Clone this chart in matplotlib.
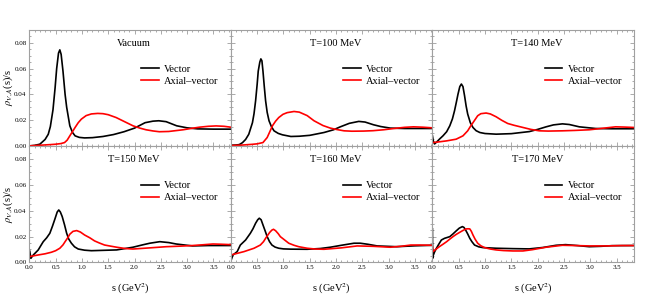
import matplotlib
matplotlib.use("Agg")
import matplotlib.pyplot as plt
from matplotlib.ticker import MultipleLocator, FormatStrFormatter

plt.rcParams['font.family'] = ['Liberation Serif', 'DejaVu Serif']
plt.rcParams['mathtext.fontset'] = 'stix'

titles = ["Vacuum", "T=100 MeV", "T=140 MeV", "T=150 MeV", "T=160 MeV", "T=170 MeV"]

# ---- Vacuum ----
v0_x = [0, 0.1, 0.2, 0.3, 0.36, 0.40, 0.45, 0.49, 0.52, 0.555, 0.58, 0.605, 0.64, 0.68, 0.71, 0.77, 0.82, 0.87, 0.95, 1.05, 1.2, 1.4, 1.6, 1.8, 2.0, 2.2, 2.35, 2.46, 2.6, 2.8, 3.0, 3.2, 3.5, 3.83]
v0_y = [0, 0.0004, 0.0013, 0.005, 0.009, 0.015, 0.028, 0.045, 0.060, 0.072, 0.0745, 0.071, 0.058, 0.040, 0.030, 0.0156, 0.0105, 0.0078, 0.0066, 0.0062, 0.0064, 0.0073, 0.0088, 0.011, 0.0138, 0.018, 0.0192, 0.0195, 0.0188, 0.0156, 0.014, 0.0132, 0.013, 0.013]
a0_x = [0, 0.2, 0.4, 0.5, 0.6, 0.67, 0.72, 0.77, 0.82, 0.87, 0.93, 0.99, 1.08, 1.18, 1.3, 1.4, 1.5, 1.65, 1.8, 1.97, 2.1, 2.22, 2.35, 2.47, 2.65, 2.92, 3.1, 3.23, 3.4, 3.55, 3.7, 3.83]
a0_y = [0, 0.0005, 0.001, 0.0013, 0.0018, 0.0026, 0.0045, 0.0078, 0.011, 0.0143, 0.018, 0.0208, 0.0235, 0.0248, 0.0252, 0.0250, 0.0242, 0.022, 0.019, 0.0156, 0.0138, 0.0125, 0.0116, 0.011, 0.0112, 0.0125, 0.0137, 0.0145, 0.0152, 0.0155, 0.0152, 0.0145]

# ---- T = 100 MeV ----
v100_x = [0, 0.1, 0.16, 0.22, 0.28, 0.34, 0.41, 0.44, 0.47, 0.50, 0.52, 0.55, 0.57, 0.59, 0.61, 0.635, 0.66, 0.69, 0.725, 0.77, 0.82, 0.9, 0.98, 1.14, 1.3, 1.5, 1.77, 1.95, 2.08, 2.25, 2.43, 2.55, 2.71, 2.85, 3.03, 3.3, 3.6, 3.83]
v100_y = [0.0005, 0.0007, 0.001, 0.0025, 0.005, 0.009, 0.018, 0.025, 0.035, 0.048, 0.058, 0.065, 0.0675, 0.066, 0.058, 0.046, 0.035, 0.026, 0.0195, 0.015, 0.0117, 0.0097, 0.0086, 0.0073, 0.0075, 0.0082, 0.0104, 0.0125, 0.0148, 0.0175, 0.019, 0.0185, 0.0164, 0.015, 0.0138, 0.0135, 0.0135, 0.0135]
a100_x = [0, 0.2, 0.4, 0.5, 0.61, 0.69, 0.74, 0.79, 0.85, 0.91, 0.99, 1.07, 1.2, 1.3, 1.45, 1.58, 1.75, 1.89, 2.0, 2.15, 2.3, 2.52, 2.7, 2.9, 3.1, 3.3, 3.47, 3.65, 3.83]
a100_y = [0.0003, 0.0006, 0.0012, 0.0016, 0.0026, 0.0065, 0.011, 0.0156, 0.0192, 0.022, 0.0245, 0.0258, 0.0267, 0.0262, 0.0235, 0.0195, 0.0158, 0.0138, 0.0128, 0.0117, 0.0114, 0.0115, 0.0118, 0.0125, 0.0135, 0.0144, 0.0148, 0.0145, 0.014]

# ---- T = 140 MeV ----
v140_x = [0, 0.015, 0.04, 0.08, 0.14, 0.2, 0.27, 0.33, 0.38, 0.42, 0.455, 0.485, 0.52, 0.55, 0.58, 0.61, 0.64, 0.67, 0.72, 0.77, 0.83, 0.9, 1.0, 1.21, 1.5, 1.84, 2.0, 2.16, 2.3, 2.47, 2.6, 2.79, 3.1, 3.4, 3.83]
v140_y = [0.0078, 0.004, 0.0015, 0.003, 0.0055, 0.0078, 0.011, 0.0156, 0.021, 0.0273, 0.034, 0.040, 0.046, 0.048, 0.046, 0.039, 0.031, 0.0247, 0.018, 0.0143, 0.0118, 0.0104, 0.0096, 0.0091, 0.0095, 0.0111, 0.0128, 0.0148, 0.0163, 0.0171, 0.0166, 0.0148, 0.0135, 0.0133, 0.0133]
a140_x = [0, 0.1, 0.27, 0.45, 0.58, 0.67, 0.72, 0.77, 0.82, 0.86, 0.92, 1.02, 1.1, 1.21, 1.32, 1.43, 1.55, 1.72, 1.87, 2.03, 2.2, 2.47, 2.7, 2.98, 3.2, 3.48, 3.65, 3.83]
a140_y = [0.0026, 0.003, 0.0039, 0.0052, 0.0078, 0.0117, 0.015, 0.018, 0.021, 0.0234, 0.025, 0.0255, 0.0248, 0.0226, 0.0198, 0.0174, 0.016, 0.0143, 0.0128, 0.0117, 0.0115, 0.0117, 0.012, 0.0125, 0.0135, 0.0148, 0.0146, 0.0143]

# ---- T = 150 MeV ----
v150_x = [0, 0.01, 0.03, 0.076, 0.12, 0.17, 0.22, 0.265, 0.33, 0.39, 0.44, 0.49, 0.53, 0.56, 0.59, 0.625, 0.67, 0.71, 0.75, 0.80, 0.86, 0.93, 1.05, 1.18, 1.34, 1.66, 1.97, 2.15, 2.29, 2.48, 2.65, 2.79, 3.1, 3.4, 3.83]
v150_y = [0.0096, 0.0083, 0.0031, 0.0057, 0.0075, 0.0096, 0.013, 0.016, 0.019, 0.0225, 0.028, 0.034, 0.039, 0.0406, 0.039, 0.0355, 0.029, 0.0225, 0.018, 0.0148, 0.012, 0.0103, 0.0094, 0.009, 0.0092, 0.0096, 0.0117, 0.0135, 0.0148, 0.016, 0.0153, 0.0142, 0.0127, 0.013, 0.013]
a150_x = [0, 0.17, 0.3, 0.42, 0.5, 0.58, 0.64, 0.68, 0.73, 0.77, 0.83, 0.9, 0.97, 1.05, 1.15, 1.24, 1.33, 1.43, 1.55, 1.66, 1.82, 1.97, 2.29, 2.6, 2.85, 3.1, 3.3, 3.49, 3.65, 3.83]
a150_y = [0.0044, 0.0057, 0.0066, 0.0078, 0.009, 0.0109, 0.0135, 0.016, 0.019, 0.0218, 0.024, 0.0246, 0.0235, 0.0212, 0.019, 0.0166, 0.015, 0.0134, 0.0125, 0.0117, 0.0107, 0.0103, 0.0112, 0.0121, 0.0125, 0.013, 0.0136, 0.0142, 0.014, 0.0137]

# ---- T = 160 MeV ----
v160_x = [0, 0.006, 0.04, 0.12, 0.18, 0.28, 0.37, 0.42, 0.47, 0.51, 0.54, 0.575, 0.61, 0.65, 0.69, 0.735, 0.78, 0.84, 0.91, 1.0, 1.14, 1.45, 1.7, 1.89, 2.1, 2.34, 2.46, 2.6, 2.78, 3.15, 3.5, 3.83]
v160_y = [0.019, 0.0018, 0.0057, 0.0083, 0.0134, 0.0173, 0.0225, 0.026, 0.0303, 0.0330, 0.0342, 0.033, 0.029, 0.0245, 0.0199, 0.016, 0.0134, 0.0118, 0.0109, 0.0104, 0.0102, 0.0101, 0.0107, 0.0117, 0.0132, 0.0148, 0.0148, 0.0140, 0.0127, 0.0121, 0.0128, 0.0132]
a160_x = [0, 0.05, 0.25, 0.44, 0.56, 0.62, 0.66, 0.70, 0.74, 0.78, 0.81, 0.85, 0.9, 0.94, 1.0, 1.1, 1.2, 1.29, 1.45, 1.6, 1.77, 2.1, 2.4, 2.7, 3.03, 3.25, 3.42, 3.6, 3.83]
a160_y = [0.0057, 0.0062, 0.0083, 0.0109, 0.0134, 0.016, 0.0186, 0.021, 0.0233, 0.0250, 0.0256, 0.0245, 0.0222, 0.0199, 0.018, 0.0148, 0.0132, 0.0121, 0.0109, 0.0103, 0.0101, 0.0112, 0.0127, 0.0124, 0.0117, 0.0125, 0.0134, 0.0134, 0.0132]

# ---- T = 170 MeV ----
v170_x = [0, 0.004, 0.012, 0.04, 0.076, 0.12, 0.17, 0.23, 0.33, 0.39, 0.45, 0.51, 0.57, 0.60, 0.63, 0.67, 0.71, 0.75, 0.8, 0.88, 0.96, 1.21, 1.53, 1.84, 2.1, 2.35, 2.53, 2.75, 2.98, 3.2, 3.41, 3.83]
v170_y = [0.026, 0.0031, 0.005, 0.008, 0.0109, 0.014, 0.0173, 0.0186, 0.0199, 0.022, 0.0243, 0.0265, 0.0277, 0.027, 0.0251, 0.022, 0.0186, 0.016, 0.0134, 0.012, 0.0114, 0.0109, 0.0106, 0.0104, 0.0115, 0.0132, 0.0137, 0.013, 0.0121, 0.0124, 0.0129, 0.013]
a170_x = [0, 0.01, 0.05, 0.13, 0.2, 0.27, 0.33, 0.39, 0.45, 0.52, 0.58, 0.64, 0.68, 0.71, 0.74, 0.77, 0.81, 0.86, 0.92, 0.99, 1.1, 1.21, 1.35, 1.53, 1.72, 1.9, 2.16, 2.47, 2.7, 2.98, 3.3, 3.6, 3.83]
a170_y = [0.012, 0.0083, 0.0096, 0.0121, 0.014, 0.016, 0.018, 0.0199, 0.0216, 0.0233, 0.0247, 0.0259, 0.026, 0.0259, 0.024, 0.0212, 0.018, 0.0148, 0.0128, 0.0114, 0.0103, 0.0096, 0.0091, 0.0088, 0.0088, 0.0098, 0.0117, 0.0132, 0.013, 0.0127, 0.0127, 0.013, 0.013]

vector = [(v0_x, v0_y), (v100_x, v100_y), (v140_x, v140_y), (v150_x, v150_y), (v160_x, v160_y), (v170_x, v170_y)]
axial = [(a0_x, a0_y), (a100_x, a100_y), (a140_x, a140_y), (a150_x, a150_y), (a160_x, a160_y), (a170_x, a170_y)]

xticks = [0.0, 0.5, 1.0, 1.5, 2.0, 2.5, 3.0, 3.5]
yticks = [0.00, 0.02, 0.04, 0.06, 0.08]

fig = plt.figure(figsize=(6.64, 2.95), dpi=100)
L, R, T, B = 29.3 / 664, 634 / 664, 1 - 29.5 / 295, 1 - 262.3 / 295
w = (R - L) / 3
h = (T - B) / 2
frame = '#a0a0a0'

for i in range(6):
    r, c = divmod(i, 3)
    ax = fig.add_axes([L + c * w, T - (r + 1) * h, w, h])
    ax.plot(*vector[i], color='black', lw=1.2, label='Vector')
    ax.plot(*axial[i], color='red', lw=1.2, label='Axial\u2013vector')
    ax.set_xlim(0, 3.83)
    ax.set_ylim(0, 0.0903)
    ax.set_xticks(xticks)
    ax.set_yticks(yticks)
    ax.xaxis.set_minor_locator(MultipleLocator(0.1))
    ax.yaxis.set_minor_locator(MultipleLocator(0.005))
    ax.yaxis.set_major_formatter(FormatStrFormatter('%.2f'))
    ax.xaxis.set_major_formatter(FormatStrFormatter('%.1f'))
    ax.tick_params(which='both', direction='in', top=True, right=True,
                   color='#888888', labelsize=5, pad=2, width=0.5)
    ax.tick_params(which='major', length=3)
    ax.tick_params(which='minor', length=1.5)
    for s in ax.spines.values():
        s.set_color(frame)
        s.set_linewidth(0.8)
    if c != 0:
        ax.tick_params(labelleft=False)
    else:
        ax.set_ylabel(r'$\rho_{V,A}$(s)/s', fontsize=7.5)
        ax.yaxis.set_label_coords(-0.072, 0.5)
    if r == 0:
        ax.tick_params(labelbottom=False)
    else:
        ax.set_xlabel(r's (GeV$^2$)', fontsize=7.5, labelpad=8)
    ax.text(0.52, 0.88, titles[i], transform=ax.transAxes, ha='center', va='center', fontsize=7.5)
    ax.legend(loc='upper left', bbox_to_anchor=(0.52, 0.76), frameon=False, fontsize=7.5,
              handlelength=1.7, handletextpad=0.5, labelspacing=0.25, borderpad=0.2)

fig.savefig('out.png', dpi=100)
